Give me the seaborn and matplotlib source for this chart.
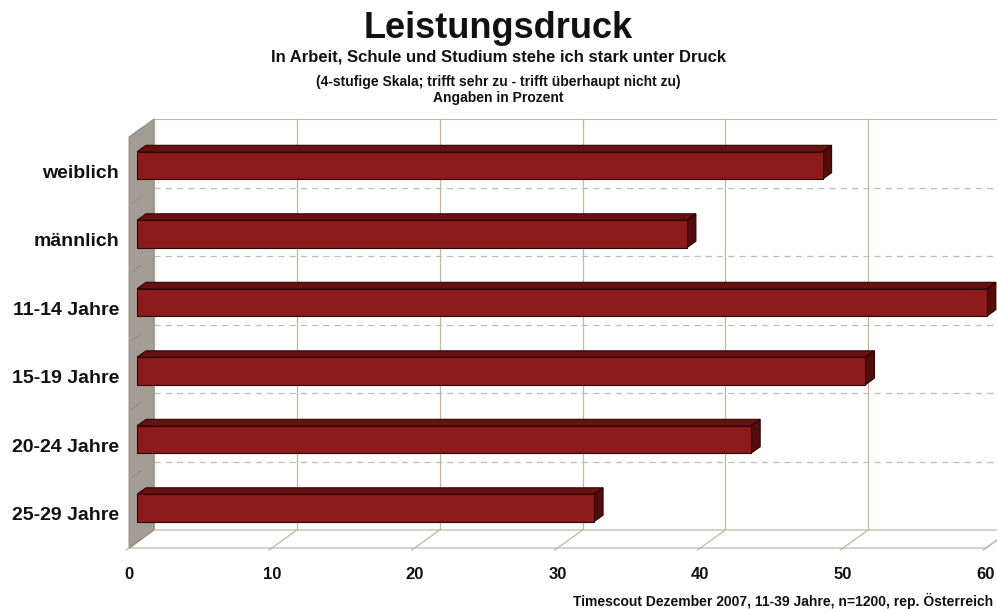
import numpy as np
import pandas as pd
import matplotlib
matplotlib.use("Agg")
import matplotlib.pyplot as plt
import seaborn as sns
from matplotlib.patches import Polygon
from matplotlib.lines import Line2D
from matplotlib.transforms import IdentityTransform, ScaledTranslation

# ---------------- data ----------------
categories = ["weiblich", "männlich", "11-14 Jahre", "15-19 Jahre", "20-24 Jahre", "25-29 Jahre"]
values = [48, 38.5, 59.5, 51, 43, 32]
xticks = [0, 10, 20, 30, 40, 50, 60]
title = "Leistungsdruck"
subtitle = "In Arbeit, Schule und Studium stehe ich stark unter Druck"
subtitle2 = "(4-stufige Skala; trifft sehr zu - trifft überhaupt nicht zu)"
subtitle3 = "Angaben in Prozent"
footer = "Timescout Dezember 2007, 11-39 Jahre, n=1200, rep. Österreich"

# ---------------- style ----------------
sns.set_theme(style="white")
plt.rcParams["font.family"] = ["Liberation Sans", "DejaVu Sans"]

FRONT = "#8e1b1b"
TOP = "#681111"
SIDE = "#540b0b"
EDGE = "#2e0404"
GRID = "#bdb8a6"
WALL = "#a49d95"

W, H = 997, 609
fig = plt.figure(figsize=(W / 100, H / 100), dpi=100)

# front plane of the 3D box (pixels)
x0, x1 = 129, 986
ytop, ybot = 137, 548
ax = fig.add_axes([x0 / W, 1 - ybot / H, (x1 - x0) / W, (ybot - ytop) / H])
ax.set_facecolor("none")

df = pd.DataFrame({"cat": categories, "val": values})
sns.barplot(data=df, x="val", y="cat", orient="h", ax=ax, color=FRONT,
            width=0.40, saturation=1, edgecolor=EDGE, linewidth=0.8, zorder=5)
bars = list(ax.patches)
ax.set_xlim(xticks[0], xticks[-1])
ax.set_ylim(len(categories) - 0.5, -0.5)
ax.set_autoscale_on(False)
ax.set_xticks(xticks)
ax.set_xticklabels([str(t) for t in xticks])
ax.set_xlabel("")
ax.set_ylabel("")
for s in ax.spines.values():
    s.set_visible(False)
ax.tick_params(axis="both", length=0)
ax.tick_params(axis="x", pad=14, labelsize=12)
ax.tick_params(axis="y", pad=7, labelsize=14)
for lab in ax.get_xticklabels() + ax.get_yticklabels():
    lab.set_fontweight("bold")
    lab.set_color("#111111")

# depth vector in display pixels (back = right & up)
DEPTH = np.array([25.0, 18.0])


def P(x, y, d):
    p = ax.transData.transform((x, y))
    return p + d * DEPTH


def poly(pts, **kw):
    pg = Polygon(np.array(pts), closed=True, transform=IdentityTransform(),
                 clip_on=False, **kw)
    ax.add_patch(pg)
    return pg


def line(p, q, **kw):
    ln = Line2D([p[0], q[0]], [p[1], q[1]], transform=IdentityTransform(),
                clip_on=False, **kw)
    ax.add_line(ln)


ylo, yhi = -0.5, len(categories) - 0.5
xmin, xmax = xticks[0], xticks[-1]

# back wall
poly([P(xmin, ylo, 1), P(xmax, ylo, 1), P(xmax, yhi, 1), P(xmin, yhi, 1)],
     facecolor="white", edgecolor="none", zorder=0.5)
line(P(xmin, ylo, 1), P(xmax, ylo, 1), color=GRID, lw=0.8, zorder=1)
for t in xticks:
    line(P(t, ylo, 1), P(t, yhi, 1), color=GRID, lw=0.9, zorder=1)
for k in range(len(categories) - 1):
    yy = k + 0.5
    line(P(xmin, yy, 1), P(xmax, yy, 1), color="#bdbdbd", lw=0.9,
         linestyle=(0, (5, 4)), zorder=1)

# floor
poly([P(xmin, yhi, 0), P(xmax, yhi, 0), P(xmax, yhi, 1), P(xmin, yhi, 1)],
     facecolor="white", edgecolor=GRID, lw=0.9, zorder=1.5)
for t in xticks:
    line(P(t, yhi, -0.12), P(t, yhi, 1), color=GRID, lw=0.9, zorder=1.6)

# left wall
poly([P(xmin, ylo, 0), P(xmin, ylo, 1), P(xmin, yhi, 1), P(xmin, yhi, 0)],
     facecolor=WALL, edgecolor="#8d867e", lw=0.6, zorder=2)
for k in range(len(categories) + 1):
    yy = k - 0.5
    line(P(xmin, yy, 0.1), P(xmin, yy, 0.5), color="#8d867e", lw=0.6, zorder=2.1)

# bars: seaborn rectangles become the front faces, add top/side faces
D0, D1 = 0.32, 0.68
shift = ScaledTranslation(D0 * DEPTH[0] / 100, D0 * DEPTH[1] / 100, fig.dpi_scale_trans)
for b in bars:
    x, y, w, h = b.get_x(), b.get_y(), b.get_width(), b.get_height()
    b.set_transform(ax.transData + shift)
    b.set_clip_on(False)
    # top face (y is the visually upper edge since axis is inverted)
    poly([P(x, y, D0), P(x + w, y, D0), P(x + w, y, D1), P(x, y, D1)],
         facecolor=TOP, edgecolor=EDGE, lw=0.8, zorder=4.9)
    # right side face
    poly([P(x + w, y, D0), P(x + w, y + h, D0), P(x + w, y + h, D1), P(x + w, y, D1)],
         facecolor=SIDE, edgecolor=EDGE, lw=0.8, zorder=4.9)

# ---------------- texts ----------------
fig.text(0.5, 1 - 38 / H, title, ha="center", va="baseline",
         fontsize=26, fontweight="bold", color="#111111")
fig.text(0.5, 1 - 62 / H, subtitle, ha="center", va="baseline",
         fontsize=12, fontweight="bold", color="#111111")
fig.text(0.5, 1 - 86 / H, subtitle2, ha="center", va="baseline",
         fontsize=10, fontweight="bold", color="#111111")
fig.text(0.5, 1 - 102 / H, subtitle3, ha="center", va="baseline",
         fontsize=10, fontweight="bold", color="#111111")
fig.text(993 / W, 1 - 606 / H, footer, ha="right", va="baseline",
         fontsize=10, fontweight="bold", color="#111111")

fig.savefig("out.png", dpi=100)
